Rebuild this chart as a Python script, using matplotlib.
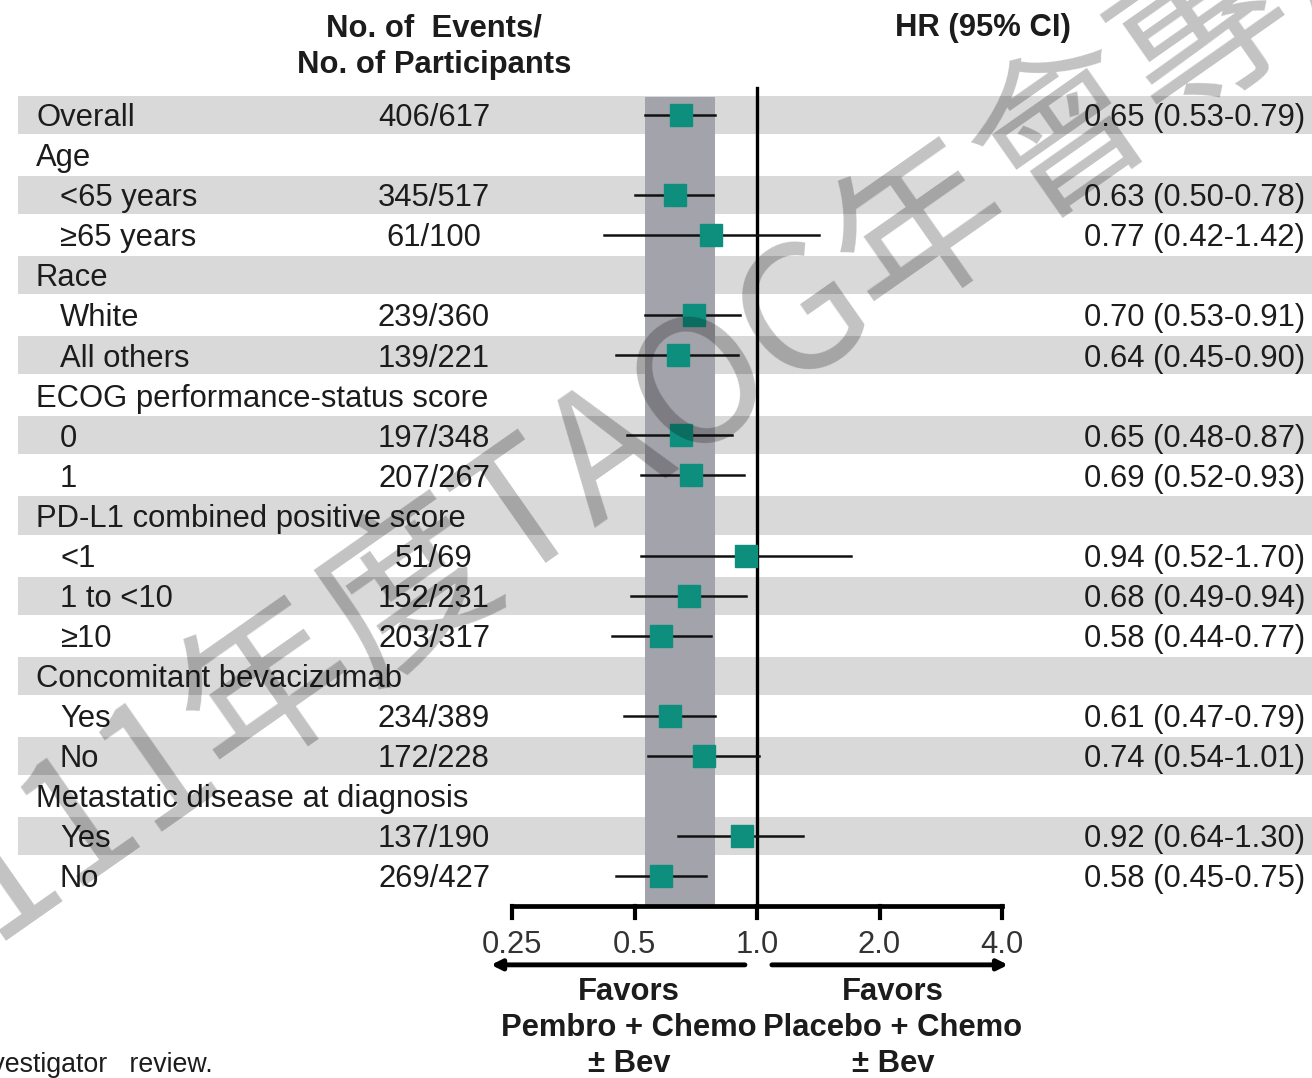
import numpy as np
import matplotlib
matplotlib.use("Agg")
import matplotlib.pyplot as plt
from matplotlib import font_manager

# Subgroups (top to bottom)
labels = ["Overall", "Age", "<65 years", "≥65 years", "Race", "White", "All others",
          "ECOG performance-status score", "0", "1",
          "PD-L1 combined positive score", "<1", "1 to <10", "≥10",
          "Concomitant bevacizumab", "Yes", "No",
          "Metastatic disease at diagnosis", "Yes", "No"]
indent = [0, 0, 1, 1, 0, 1, 1, 0, 1, 1, 0, 1, 1, 1, 0, 1, 1, 0, 1, 1]
events = ["406/617", "", "345/517", "61/100", "", "239/360", "139/221",
          "", "197/348", "207/267", "", "51/69", "152/231", "203/317",
          "", "234/389", "172/228", "", "137/190", "269/427"]
nan = np.nan
hr = [0.65, nan, 0.63, 0.77, nan, 0.70, 0.64, nan, 0.65, 0.69,
      nan, 0.94, 0.68, 0.58, nan, 0.61, 0.74, nan, 0.92, 0.58]
ci_lo = [0.53, nan, 0.50, 0.42, nan, 0.53, 0.45, nan, 0.48, 0.52,
         nan, 0.52, 0.49, 0.44, nan, 0.47, 0.54, nan, 0.64, 0.45]
ci_hi = [0.79, nan, 0.78, 1.42, nan, 0.91, 0.90, nan, 0.87, 0.93,
         nan, 1.70, 0.94, 0.77, nan, 0.79, 1.01, nan, 1.30, 0.75]

xticks = [0.25, 0.5, 1.0, 2.0, 4.0]
xtick_labels = ["0.25", "0.5", "1.0", "2.0", "4.0"]
left_favor = ["Favors", "Pembro + Chemo", "± Bev"]
right_favor = ["Favors", "Placebo + Chemo", "± Bev"]
watermark = "111年度TAOG年會專用"

# font: narrow Arial look if available
names = {f.name for f in font_manager.fontManager.ttflist}
if "Liberation Sans Narrow" in names:
    fam, fs = ["Liberation Sans Narrow", "Liberation Sans", "DejaVu Sans"], 27
else:
    fam, fs = ["Liberation Sans", "DejaVu Sans"], 22.3
plt.rcParams["font.family"] = fam

W, H = 1312, 1078
fig = plt.figure(figsize=(W / 100, H / 100), dpi=100)
ax = fig.add_axes([0, 0, 1, 1])
ax.set_xscale("log", base=2)

# layout: 0.25 at x=512px, 122.5 px per doubling; row 0 at y=115px, 40.05 px per row
ppd, x0 = 122.5, 512
ax.set_xlim(0.25 * 2 ** (-x0 / ppd), 0.25 * 2 ** ((W - x0) / ppd))
rp, y0 = 40.05, 115
ax.set_ylim((H - y0) / rp, -y0 / rp)
ax.axis("off")

n = len(labels)
rows = np.arange(n)
txt = "#1c1c1c"
tr = ax.get_yaxis_transform()
off = 0.28  # baseline offset of row text

# row shading
for i in rows[::2]:
    ax.axhspan(i - 0.475, i + 0.475, xmin=18 / W, xmax=1, color="#d9d9d9", lw=0, zorder=0)

# overall CI band
ax.fill_betweenx([-0.45, 19.72], ci_lo[0], ci_hi[0], color="#a3a3ab", lw=0, zorder=1)

# reference line
ax.plot([1, 1], [-0.67, 19.75], color="black", lw=2.4, zorder=3)

# CIs and point estimates
for i in rows:
    if np.isnan(hr[i]):
        continue
    ax.plot([ci_lo[i], ci_hi[i]], [i, i], color="#111111", lw=1.8, zorder=4)
    ax.plot(hr[i], i, marker="s", ms=16, color="#0e8f7e", mec="#0e8f7e", zorder=5)

# text columns
for i in rows:
    xl = 36 if indent[i] == 0 else 60
    ax.text(xl / W, i + off, labels[i], transform=tr, fontsize=fs, color=txt, va="baseline")
    if events[i]:
        ax.text(434 / W, i + off, events[i], transform=tr, fontsize=fs, color=txt,
                ha="center", va="baseline")
    if not np.isnan(hr[i]):
        s = f"{hr[i]:.2f} ({ci_lo[i]:.2f}-{ci_hi[i]:.2f})"
        ax.text(1305 / W, i + off, s, transform=tr, fontsize=fs, color=txt,
                ha="right", va="baseline")

# column headers
ax.text(434 / W, -1.97, "No. of  Events/", transform=tr, fontsize=fs, weight="bold",
        ha="center", va="baseline", color=txt)
ax.text(434 / W, -1.05, "No. of Participants", transform=tr, fontsize=fs, weight="bold",
        ha="center", va="baseline", color=txt)
ax.text(983 / W, -1.97, "HR (95% CI)", transform=tr, fontsize=fs, weight="bold",
        ha="center", va="baseline", color=txt)

# x axis drawn by hand (ticks point down)
ya = 19.75
ax.plot([xticks[0], xticks[-1]], [ya, ya], color="black", lw=3.4, solid_capstyle="projecting", zorder=3)
for t, lab in zip(xticks, xtick_labels):
    ax.plot([t, t], [ya, ya + 0.3], color="black", lw=3.0, zorder=3)
    ax.text(t, ya + 1.17, lab, fontsize=fs, color="#333333", ha="center", va="baseline")

# arrows
ya2 = 21.22
for a, b in [(0.934, 0.222), (1.088, 4.14)]:
    ax.annotate("", xy=(b, ya2), xytext=(a, ya2),
                arrowprops=dict(arrowstyle="-|>", lw=3.5, color="black", mutation_scale=15,
                                shrinkA=0, shrinkB=0))

for k in range(3):
    yb = 22.1 + k * 0.9
    ax.text(629 / W, yb, left_favor[k], transform=tr, fontsize=fs, weight="bold",
            ha="center", va="baseline", color=txt)
    ax.text(893 / W, yb, right_favor[k], transform=tr, fontsize=fs, weight="bold",
            ha="center", va="baseline", color=txt)

# cut-off footnote
ax.text(213 / W, 23.9, "by investigator   review.", transform=tr, fontsize=19.3,
        ha="right", va="baseline", color=txt)

# watermark
fig.text(690 / W, 1 - 392 / H, watermark, rotation=35, fontsize=124,
         family=["Noto Sans CJK TC", "DejaVu Sans"], color="black", alpha=0.24,
         ha="center", va="center", rotation_mode="anchor", zorder=10)

fig.savefig("out.png", dpi=100)
